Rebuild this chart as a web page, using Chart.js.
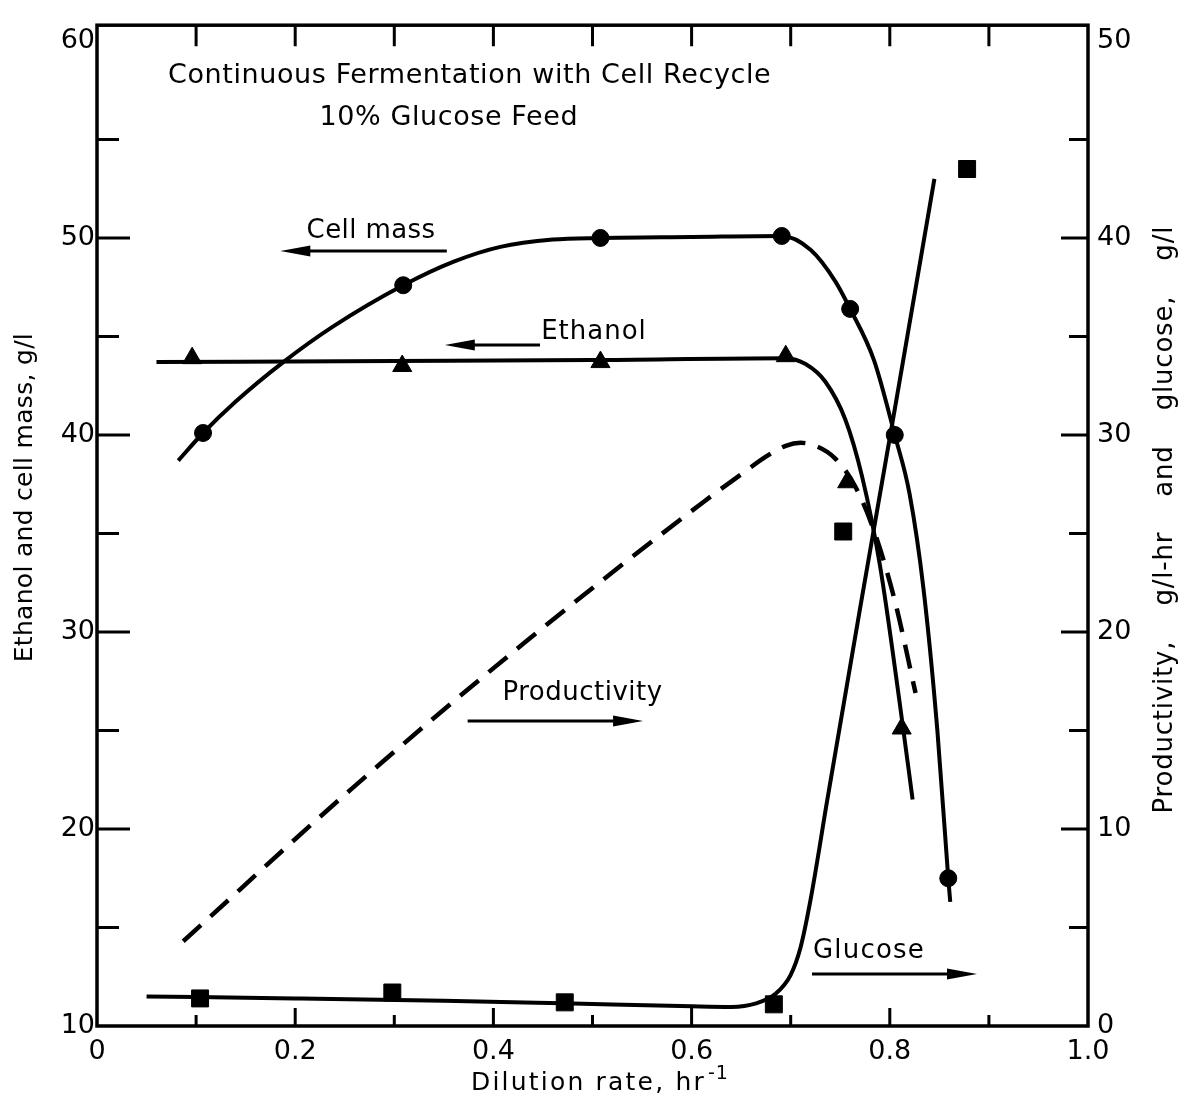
<!DOCTYPE html>
<html>
<head>
<meta charset="utf-8">
<script src="https://cdn.jsdelivr.net/npm/chart.js@4.4.0/dist/chart.umd.min.js"></script>
<style>
  body { margin: 0; background: #fff; }
  canvas { display: block; }
</style>
</head>
<body>
<canvas id="chart" width="1191" height="1103"></canvas>
<script>
const cellMassX = [0.107, 0.309, 0.508, 0.691, 0.760, 0.805, 0.859];
const cellMassY = [40.1, 47.6, 50.0, 50.1, 46.4, 40.0, 17.5];
const ethanolX = [0.096, 0.308, 0.508, 0.695, 0.757, 0.812];
const ethanolY = [43.9, 43.5, 43.7, 44.0, 37.6, 25.1];
const glucoseX = [0.104, 0.298, 0.472, 0.683, 0.753, 0.878];
const glucoseY = [1.4, 1.7, 1.2, 1.1, 25.1, 43.5];

// hand drawn curves through the points
const cellMassCurveX = [0.082, 0.107, 0.14, 0.188, 0.238, 0.309, 0.36, 0.407, 0.46, 0.508, 0.6, 0.691, 0.72, 0.745, 0.76, 0.784, 0.805, 0.82, 0.834, 0.848, 0.859, 0.861];
const cellMassCurveY = [38.7, 40.1, 41.7, 43.7, 45.5, 47.6, 48.8, 49.55, 49.92, 50.0, 50.05, 50.1, 49.4, 47.8, 46.4, 43.8, 40.0, 37.0, 32.2, 25.0, 17.5, 16.3];
const ethanolCurveX = [0.06, 0.3, 0.5, 0.695, 0.715, 0.735, 0.755, 0.772, 0.79, 0.81, 0.823];
const ethanolCurveY = [43.7, 43.75, 43.8, 43.9, 43.6, 42.7, 40.8, 37.9, 33.4, 26.4, 21.5];
const productivityX = [0.087, 0.256, 0.43, 0.612, 0.65, 0.675, 0.695, 0.71, 0.725, 0.745, 0.765, 0.785, 0.805, 0.826];
const productivityY = [4.3, 12.0, 19.4, 26.6, 28.0, 28.9, 29.45, 29.6, 29.45, 28.8, 27.4, 25.0, 21.6, 16.9];
const glucoseCurveX = [0.05, 0.2, 0.35, 0.47, 0.6, 0.64, 0.665, 0.685, 0.70, 0.71, 0.72, 0.737, 0.77, 0.805, 0.845];
const glucoseCurveY = [1.5, 1.4, 1.28, 1.15, 1.0, 0.97, 1.15, 1.65, 2.6, 4.0, 6.4, 11.5, 21.2, 31.3, 43.0];

// axis ticks
const xTicks = [0, 0.2, 0.4, 0.6, 0.8, 1.0];
const leftTicks = [10, 20, 30, 40, 50, 60];
const rightTicks = [0, 10, 20, 30, 40, 50];

// labels on the plot (x in hr-1, y in left axis units, baseline)
const noteText = ['Continuous Fermentation with Cell Recycle', '10% Glucose Feed', 'Cell mass', 'Ethanol', 'Productivity', 'Glucose'];
const noteX = [0.376, 0.355, 0.2765, 0.5015, 0.49, 0.779];
const noteY = [57.87, 55.74, 50.0, 44.87, 26.55, 13.45];
const arrowX0 = [0.353, 0.447, 0.374, 0.7215];
const arrowX1 = [0.185, 0.351, 0.551, 0.888];
const arrowY = [49.34, 44.57, 25.48, 12.64];

const FONT = '"DejaVu Sans", sans-serif';
const pairs = (xs, ys) => xs.map((x, i) => ({ x: x, y: ys[i] }));

const curve = (data, axis, dash) => ({
  data: data,
  yAxisID: axis,
  showLine: true,
  pointRadius: 0,
  borderColor: '#000',
  borderWidth: dash ? 4.5 : 4,
  borderDash: dash ? [24, 13] : [],
  cubicInterpolationMode: 'monotone',
  fill: false
});

const marks = (data, axis, style, r) => ({
  data: data,
  yAxisID: axis,
  showLine: false,
  pointStyle: style,
  pointRadius: r,
  backgroundColor: '#000',
  borderColor: '#000',
  borderWidth: 1
});

function drawText(ctx, str, x, y, size, spacing, align) {
  ctx.font = size + 'px ' + FONT;
  ctx.letterSpacing = spacing + 'px';
  ctx.textAlign = align;
  ctx.textBaseline = 'alphabetic';
  ctx.fillText(str, x, y);
}

// frame, inward ticks, notes, arrows and axis titles
const decorations = {
  id: 'decorations',
  afterDraw(chart) {
    const { ctx, chartArea: a } = chart;
    const x = chart.scales.x, y = chart.scales.y, y2 = chart.scales.y2;
    ctx.save();
    ctx.strokeStyle = '#000';
    ctx.fillStyle = '#000';
    ctx.lineWidth = 3.5;
    ctx.strokeRect(a.left, a.top, a.right - a.left, a.bottom - a.top);

    ctx.lineWidth = 3;
    ctx.beginPath();
    for (let i = 1; i < 10; i++) {
      const px = x.getPixelForValue(i / 10);
      const big = i % 2 === 0;
      ctx.moveTo(px, a.bottom); ctx.lineTo(px, a.bottom - (big ? 18 : 11));
      ctx.moveTo(px, a.top); ctx.lineTo(px, a.top + 21);
    }
    for (let v = 15; v <= 55; v += 5) {
      const py = y.getPixelForValue(v);
      ctx.moveTo(a.left, py); ctx.lineTo(a.left + (v % 10 === 0 ? 33 : 22), py);
    }
    for (let v = 5; v <= 45; v += 5) {
      const py = y2.getPixelForValue(v);
      ctx.moveTo(a.right, py); ctx.lineTo(a.right - (v % 10 === 0 ? 27 : 19), py);
    }
    ctx.stroke();

    // notes
    noteText.forEach((t, i) => {
      const size = i < 2 ? 27 : 26;
      const sp = i < 2 ? 0.6 : [0.4, 1.0, 0.5, 1.2][i - 2];
      drawText(ctx, t, x.getPixelForValue(noteX[i]), y.getPixelForValue(noteY[i]), size, sp, 'center');
    });

    // arrows
    ctx.lineWidth = 3;
    arrowY.forEach((v, i) => {
      const py = y.getPixelForValue(v);
      const p0 = x.getPixelForValue(arrowX0[i]);
      const p1 = x.getPixelForValue(arrowX1[i]);
      const dir = Math.sign(p1 - p0);
      ctx.beginPath();
      ctx.moveTo(p0, py); ctx.lineTo(p1 - dir * 20, py);
      ctx.stroke();
      ctx.beginPath();
      ctx.moveTo(p1, py);
      ctx.lineTo(p1 - dir * 30, py - 5.5);
      ctx.lineTo(p1 - dir * 30, py + 5.5);
      ctx.closePath();
      ctx.fill();
    });

    // axis titles
    const cx = (a.left + a.right) / 2;
    drawText(ctx, 'Dilution rate, hr', cx - 4, 1090, 25, 2.2, 'center');
    ctx.font = '25px ' + FONT;
    const w = ctx.measureText('Dilution rate, hr').width;
    drawText(ctx, '-1', cx - 4 + w / 2 + 2, 1079, 19, 1, 'left');

    const cy = (a.top + a.bottom) / 2;
    ctx.save();
    ctx.translate(23, cy - 28);
    ctx.rotate(-Math.PI / 2);
    drawText(ctx, 'Ethanol and cell mass, g/l', 0, 9, 25, 0.3, 'center');
    ctx.restore();

    ctx.save();
    ctx.translate(1163, cy - 6);
    ctx.rotate(-Math.PI / 2);
    ctx.wordSpacing = '26px';
    drawText(ctx, 'Productivity, g/l-hr and glucose, g/l', 0, 9, 26, 0.8, 'center');
    ctx.restore();

    ctx.restore();
  }
};

const tickFont = { family: FONT, size: 27 };

new Chart(document.getElementById('chart').getContext('2d'), {
  type: 'scatter',
  data: {
    datasets: [
      curve(pairs(cellMassCurveX, cellMassCurveY), 'y', false),
      curve(pairs(ethanolCurveX, ethanolCurveY), 'y', false),
      curve(pairs(productivityX, productivityY), 'y2', true),
      curve(pairs(glucoseCurveX, glucoseCurveY), 'y2', false),
      marks(pairs(cellMassX, cellMassY), 'y', 'circle', 8.5),
      marks(pairs(ethanolX, ethanolY), 'y', 'triangle', 11),
      marks(pairs(glucoseX, glucoseY), 'y2', 'rect', 12)
    ]
  },
  options: {
    responsive: false,
    animation: false,
    layout: { padding: { top: 25 } },
    plugins: { legend: { display: false }, tooltip: { enabled: false } },
    scales: {
      x: {
        type: 'linear', min: 0, max: 1,
        grid: { display: false, drawTicks: false },
        border: { display: false },
        afterBuildTicks: s => { s.ticks = xTicks.map(v => ({ value: v })); },
        ticks: {
          font: tickFont, color: '#000', padding: 10, maxRotation: 0,
          callback: v => v === 0 ? '0' : v.toFixed(1)
        },
        afterFit: s => { s.height = 77; }
      },
      y: {
        position: 'left', min: 10, max: 60.8,
        grid: { display: false, drawTicks: false },
        border: { display: false },
        afterBuildTicks: s => { s.ticks = leftTicks.map(v => ({ value: v })); },
        ticks: { font: tickFont, color: '#000', padding: 2 },
        afterFit: s => { s.width = 97; }
      },
      y2: {
        position: 'right', min: 0, max: 50.8,
        grid: { display: false, drawTicks: false },
        border: { display: false },
        afterBuildTicks: s => { s.ticks = rightTicks.map(v => ({ value: v })); },
        ticks: { font: tickFont, color: '#000', padding: 9 },
        afterFit: s => { s.width = 103; }
      }
    }
  },
  plugins: [decorations]
});
</script>
</body>
</html>
